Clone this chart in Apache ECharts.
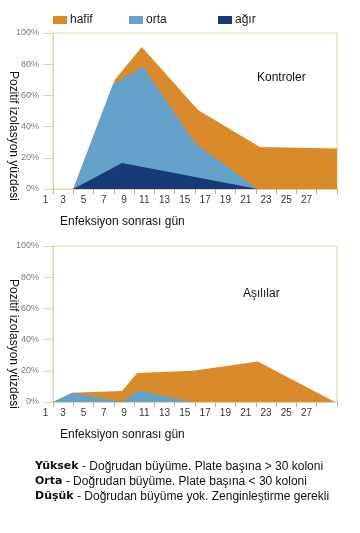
<!DOCTYPE html>
<html><head><meta charset="utf-8">
<script src="https://cdn.jsdelivr.net/npm/echarts@6/dist/echarts.min.js"></script>
<style>html,body{margin:0;padding:0;background:#fff}#c{width:360px;height:533px}</style>
</head><body><div id="c"></div>
<script>
// ---- data ----
const seriesNames = ['hafif', 'orta', 'ağır'];
const dayTickLabels = ['1','3','5','7','9','11','13','15','17','19','21','23','25','27'];
const yTickValues = [0, 20, 40, 60, 80, 100];
const panelTitles = ['Kontroler', 'Aşılılar'];
const yAxisName = 'Pozitif izolasyon yüzdesi';
const xAxisName = 'Enfeksiyon sonrası gün';

// Kontroler (cumulative heights, %)
const ctrlHafifDays = [4, 8.1, 10.75, 16.3, 22.4, 30];
const ctrlHafifVals = [0, 70, 91, 50.6, 27, 26];
const ctrlOrtaDays  = [4, 7.9, 10.9, 16.0, 22.2];
const ctrlOrtaVals  = [0, 67, 78.4, 29.3, 0];
const ctrlAgirDays  = [4, 8.8, 22.2];
const ctrlAgirVals  = [0, 16.7, 0];

// Aşılılar
const vacHafifDays = [2, 3.9, 8.8, 10.3, 15.8, 22.2, 29.8];
const vacHafifVals = [0, 6, 7, 18.6, 20, 26, 0];
const vacOrtaDays  = [2, 3.9, 8.8, 10.4, 15.7];
const vacOrtaVals  = [0, 6, 0, 7.5, 0];

const noteLabels = ['Yüksek', 'Orta', 'Düşük'];
const noteTexts = [
  ' - Doğrudan büyüme. Plate başına > 30 koloni',
  ' - Doğrudan büyüme. Plate başına < 30 koloni',
  ' - Doğrudan büyüme yok. Zenginleştirme gerekli'
];

// ---- styles ----
const COL = { 'hafif': '#D98B2B', 'orta': '#64A2C9', 'ağır': '#173A7A' };
const TAN = '#E2D2AA';
const FONT = '"Liberation Sans", Arial, sans-serif';

const zip = (xs, ys) => xs.map((x, i) => [x, ys[i]]);
const bandLabels = dayTickLabels.slice(1).concat(['']);

function xAxes(g) {
  return [
    {
      type: 'category', gridIndex: g, data: bandLabels, boundaryGap: true,
      axisLine: { lineStyle: { color: TAN } },
      axisTick: { show: true, length: 5, lineStyle: { color: '#b9ad92' } },
      axisLabel: {
        interval: 0, fontSize: 10, color: '#333', margin: 6, fontFamily: FONT,
        formatter: (v, i) => i === 0
          ? '{o|' + dayTickLabels[0] + '}{g|}' + v + '{g|}{h|' + dayTickLabels[0] + '}'
          : v,
        rich: {
          o: { fontSize: 10, color: '#333', fontFamily: FONT },
          h: { fontSize: 10, color: 'rgba(0,0,0,0)', fontFamily: FONT },
          g: { width: 12 }
        }
      },
      name: xAxisName, nameLocation: 'start', nameGap: -7, nameMoveOverlap: false,
      nameTextStyle: { fontSize: 12, color: '#111', fontFamily: FONT, align: 'left', verticalAlign: 'top', padding: [27, 0, 0, 0] }
    },
    { type: 'value', gridIndex: g, min: 2, max: 30, show: false }
  ];
}
function yAxis(g, shift) {
  return {
    type: 'value', gridIndex: g, min: 0, max: 100, interval: 20,
    splitLine: { show: false },
    axisLine: { show: true, lineStyle: { color: TAN } },
    axisTick: { show: true, length: 10, lineStyle: { color: TAN } },
    axisLabel: { formatter: '{value}%', fontSize: 9, color: '#777', margin: 14, fontFamily: FONT },
    name: yAxisName, nameLocation: 'middle', nameRotate: -90, nameGap: 34, nameMoveOverlap: false,
    nameTextStyle: { fontSize: 12, color: '#111', fontFamily: FONT, padding: [0, 0, 0, shift] }
  };
}
function area(name, g, days, vals) {
  return {
    name, type: 'line', xAxisIndex: 2 * g + 1, yAxisIndex: g,
    data: zip(days, vals), symbol: 'none', silent: true,
    itemStyle: { color: COL[name] },
    lineStyle: { width: 0, color: COL[name] },
    areaStyle: { color: COL[name], opacity: 1 }
  };
}

const chart = echarts.init(document.getElementById('c'), null, { renderer: 'canvas' });
chart.setOption({
  animation: false,
  backgroundColor: '#fff',
  textStyle: { fontFamily: FONT },
  legend: [
    { data: [seriesNames[0]], left: 53, top: 14 },
    { data: [seriesNames[1]], left: 129, top: 14 },
    { data: [seriesNames[2]], left: 218, top: 14 }
  ].map(l => Object.assign(l, { padding: 0, itemWidth: 14, itemHeight: 8, icon: 'rect', itemGap: 5,
      textStyle: { fontSize: 12, color: '#222', fontFamily: FONT, padding: [0, 0, 0, -2] } })),
  title: [
    { text: panelTitles[0], left: 257, top: 72, padding: 0, textStyle: { fontSize: 12, fontWeight: 'normal', color: '#111', fontFamily: FONT } },
    { text: panelTitles[1], left: 243, top: 288, padding: 0, textStyle: { fontSize: 12, fontWeight: 'normal', color: '#111', fontFamily: FONT } },
    {
      text: noteLabels.map((l, i) => '{b|' + l + '}' + noteTexts[i]).join('\n'),
      left: 35, top: 459, padding: 0,
      textStyle: {
        fontSize: 12, fontWeight: 'normal', color: '#111', fontFamily: FONT, lineHeight: 15,
        rich: { b: { fontSize: 11, fontWeight: 'bold', color: '#111', fontFamily: '"DejaVu Sans", Verdana, sans-serif', lineHeight: 15 } }
      }
    }
  ],
  grid: [
    { left: 53, right: 23, top: 33, height: 156, show: true, borderColor: TAN, borderWidth: 1, containLabel: false, outerBoundsMode: 'none' },
    { left: 53, right: 23, top: 246, height: 156, show: true, borderColor: TAN, borderWidth: 1, containLabel: false, outerBoundsMode: 'none' }
  ],
  xAxis: xAxes(0).concat(xAxes(1)),
  yAxis: [yAxis(0, 50), yAxis(1, 40)],
  series: [
    area('hafif', 0, ctrlHafifDays, ctrlHafifVals),
    area('orta', 0, ctrlOrtaDays, ctrlOrtaVals),
    area('ağır', 0, ctrlAgirDays, ctrlAgirVals),
    area('hafif', 1, vacHafifDays, vacHafifVals),
    area('orta', 1, vacOrtaDays, vacOrtaVals)
  ]
});
</script></body></html>
